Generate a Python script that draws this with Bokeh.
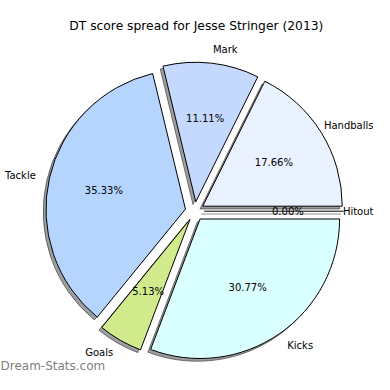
import numpy as np
from bokeh.plotting import figure
from bokeh.models import Range1d, ColumnDataSource
from bokeh.core.properties import value
from bokeh.embed import file_html
from bokeh.resources import INLINE

# ---- data ----
categories = ["Handballs", "Mark", "Tackle", "Goals", "Kicks", "Hitout"]
scores = [62, 39, 124, 18, 108, 0]
colors = ["#eaf1ff", "#c5d9ff", "#b5d5ff", "#d1eb8c", "#d9ffff", "#e8e8e8"]
title_text = "DT score spread for Jesse Stringer (2013)"
watermark = "Dream-Stats.com"

# ---- geometry (pie radius = 1 data unit) ----
W = H = 374
SCALE = 139.5          # px per data unit
CX, CY = 194.2, 210.7  # pie centre in pixels
EXPLODE = 0.068
SHADOW = 0.02
FONT = "DejaVu Sans"

def px_x(px):
    return (px - CX) / SCALE

def px_y(py):
    return (CY - py) / SCALE

vals = np.array(scores, dtype=float)
frac = vals / vals.sum()
ends = np.cumsum(frac) * 2 * np.pi
starts = ends - frac * 2 * np.pi
mids = (starts + ends) / 2
ox = EXPLODE * np.cos(mids)
oy = EXPLODE * np.sin(mids)
pct = ["%.2f%%" % (f * 100) for f in frac]

p = figure(width=W, height=H, output_backend="svg", toolbar_location=None,
           x_range=Range1d(px_x(0), px_x(W)), y_range=Range1d(px_y(H), px_y(0)),
           min_border=0, outline_line_color=None)
p.axis.visible = False
p.grid.visible = False
p.background_fill_color = "white"
p.border_fill_color = "white"

nz = frac > 0
src = ColumnDataSource(dict(x=ox[nz], y=oy[nz], sx=ox[nz] - SHADOW, sy=oy[nz] - SHADOW,
                            start=starts[nz], end=ends[nz],
                            color=[c for c, k in zip(colors, nz) if k]))
zsrc = ColumnDataSource(dict(x0=ox[~nz], y0=oy[~nz],
                             x1=ox[~nz] + np.cos(mids[~nz]), y1=oy[~nz] + np.sin(mids[~nz]),
                             sx0=ox[~nz] - SHADOW, sy0=oy[~nz] - SHADOW,
                             sx1=ox[~nz] + np.cos(mids[~nz]) - SHADOW,
                             sy1=oy[~nz] + np.sin(mids[~nz]) - SHADOW))

# shadows
p.wedge(x="sx", y="sy", radius=1, start_angle="start", end_angle="end", source=src,
        fill_color="black", fill_alpha=0.38, line_color="black", line_alpha=0.45, line_width=1)
p.segment(x0="sx0", y0="sy0", x1="sx1", y1="sy1", source=zsrc,
          line_color="black", line_alpha=0.45, line_width=1)
# wedges
p.wedge(x="x", y="y", radius=1, start_angle="start", end_angle="end", source=src,
        fill_color="color", line_color="black", line_width=1)
p.segment(x0="x0", y0="y0", x1="x1", y1="y1", source=zsrc, line_color="black", line_width=1)

# category labels (kept inside the figure's right edge)
lx = ox + 1.1 * np.cos(mids)
ly = oy + 1.1 * np.sin(mids)
label_w = np.array([len(s) * 0.6 * 10 / SCALE for s in categories])
right_lim = px_x(W - 1)
lx_adj = []
align = []
for x, w, c in zip(lx, label_w, np.cos(mids)):
    if c >= 0:
        if x + w > right_lim:
            lx_adj.append(right_lim)
            align.append("right")
        else:
            lx_adj.append(x)
            align.append("left")
    else:
        lx_adj.append(x)
        align.append("right")
p.text(x=lx_adj, y=ly, text=categories, text_align=align, text_baseline="middle",
       text_font=value(FONT), text_font_size="10px", text_color="black")

# percentage labels
tx = ox + 0.6 * np.cos(mids)
ty = oy + 0.6 * np.sin(mids)
p.text(x=tx, y=ty, text=pct, text_align="center", text_baseline="middle",
       text_font=value(FONT), text_font_size="10px", text_color="black")

# title & watermark
p.text(x=[px_x(195.8)], y=[px_y(25.7)], text=[title_text], text_align="center",
       text_baseline="middle", text_font=value(FONT), text_font_size="12.3px", text_color="black")
p.text(x=[px_x(0)], y=[px_y(H - 2)], text=[watermark], text_align="left",
       text_baseline="bottom", text_font=value(FONT), text_font_size="12px",
       text_color="#7f7f7f")

open("out.html", "w").write(file_html(p, INLINE))
